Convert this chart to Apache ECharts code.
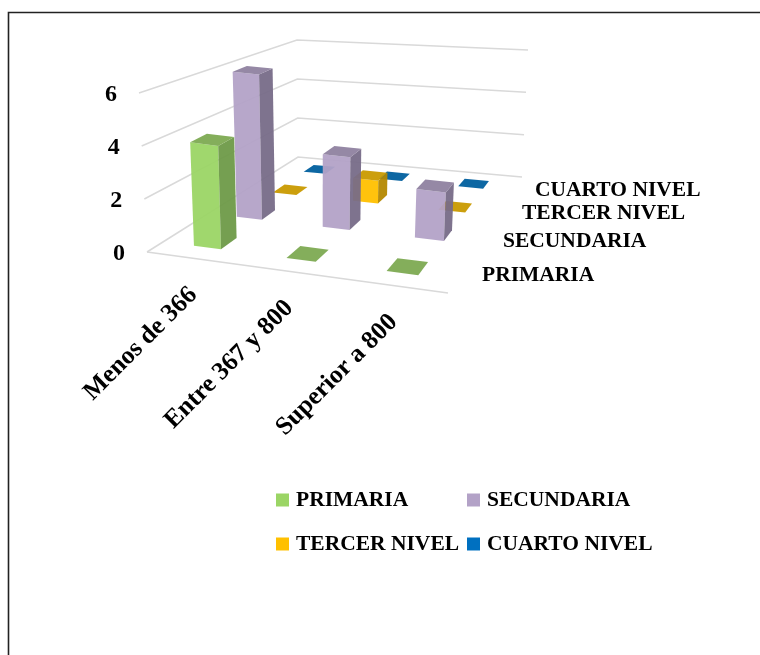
<!DOCTYPE html>
<html><head><meta charset="utf-8">
<style>html,body{margin:0;padding:0;background:#fff}#c{width:760px;height:655px}</style>
<script src="https://cdn.jsdelivr.net/npm/echarts@6/dist/echarts.min.js"></script>
</head><body><div id="c"></div>
<script>
// ---- data ----
const categories = ['Menos de 366', 'Entre 367 y 800', 'Superior a 800'];
const levels = ['PRIMARIA', 'SECUNDARIA', 'TERCER NIVEL', 'CUARTO NIVEL'];
const primaria = [4, 0, 0];
const secundaria = [6, 3, 2];
const tercerNivel = [0, 1, 0];
const cuartoNivel = [0, 0, 0];
const yTicks = [0, 2, 4, 6];

// ---- style / view ----
const FONT = 'bold 21.5px "Liberation Serif", serif';
const TICKFONT = 'bold 24px "Liberation Serif", serif';
const CATFONT = 'bold 25.5px "Liberation Serif", serif';
const floorQuad = [[147,252],[448,293],[522,177],[298,157]]; // FL FR BR BL
const lift = [[-8,-159],[8,-155],[6,-127],[-1,-117]];         // top offset at the same corners
const BAR_W = 0.10, BAR_D = 0.09;
const faces = [
  {front:'#9BD565', side:'#6E9A48', top:'#7DAA52'},
  {front:'#B3A2C7', side:'#776B88', top:'#8F82A0'},
  {front:'#FFC000', side:'#B48800', top:'#C99A00'},
  {front:'#0070C0', side:'#00508A', top:'#005F9E'}
];
const legendColors = ['#9BD565','#B3A2C7','#FFC000','#0070C0'];
const levelLabelPos = [[482,275],[503,241],[522,213],[535,190]];

function solve(q){
  const [p0,p1,p2,p3]=q;
  const dx1=p1[0]-p2[0],dx2=p3[0]-p2[0],sx=p0[0]-p1[0]+p2[0]-p3[0];
  const dy1=p1[1]-p2[1],dy2=p3[1]-p2[1],sy=p0[1]-p1[1]+p2[1]-p3[1];
  const den=dx1*dy2-dx2*dy1;
  const g=(sx*dy2-dx2*sy)/den,h=(dx1*sy-sx*dy1)/den;
  return {a:p1[0]-p0[0]+g*p1[0],b:p3[0]-p0[0]+h*p3[0],c:p0[0],d:p1[1]-p0[1]+g*p1[1],e:p3[1]-p0[1]+h*p3[1],f:p0[1],g,h};
}
const H=solve(floorQuad);
function project(u,d,t){
  const w=H.g*u+H.h*d+1;
  const x=(H.a*u+H.b*d+H.c)/w, y=(H.d*u+H.e*d+H.f)/w;
  const mix=i=>lift[0][i]*(1-u)*(1-d)+lift[1][i]*u*(1-d)+lift[2][i]*u*d+lift[3][i]*(1-u)*d;
  return [x+mix(0)*t,y+mix(1)*t];
}
function frac(cs,pt){return [(pt[0]-cs.x)/cs.width,(cs.y+cs.height-pt[1])/cs.height];}

function barRenderer(row){
  return function(params,api){
    const cs=params.coordSys;
    const idx=api.value(0), val=api.value(1);
    const f=frac(cs,api.coord([idx,val]));
    const uc=f[0], t=f[1];
    const dc=(row+0.5)/levels.length;
    const u0=uc-BAR_W/2,u1=uc+BAR_W/2,d0=dc-BAR_D/2,d1=dc+BAR_D/2;
    const c=faces[row];
    const poly=(pts,fill)=>({type:'polygon',shape:{points:pts},style:{fill:fill,opacity:0.95}});
    const kids=[];
    if(val>0){
      kids.push(poly([project(u0,d0,0),project(u1,d0,0),project(u1,d0,t),project(u0,d0,t)],c.front));
      kids.push(poly([project(u1,d0,0),project(u1,d1,0),project(u1,d1,t),project(u1,d0,t)],c.side));
    }
    kids.push(poly([project(u0,d0,t),project(u1,d0,t),project(u1,d1,t),project(u0,d1,t)],c.top));
    return {type:'group',children:kids};
  };
}
const seriesData=[primaria,secundaria,tercerNivel,cuartoNivel];
const series=levels.map((name,row)=>({
  name:name,type:'custom',coordinateSystem:'cartesian2d',z:10-row,
  itemStyle:{color:legendColors[row]},silent:true,
  renderItem:barRenderer(row),
  data:seriesData[row].map((v,i)=>[i,v])
}));
// walls and floor
series.push({name:'walls',type:'custom',z:1,silent:true,
  renderItem(params,api){
    const cs=params.coordSys, t=frac(cs,api.coord([0,api.value(1)]))[1];
    const style={stroke:'#D9D9D9',lineWidth:1.5,fill:null};
    const kids=[{type:'polyline',shape:{points:[project(0,0,t),project(0,1,t),project(1,1,t)]},style}];
    if(t===0) kids.push({type:'polyline',shape:{points:[project(0,0,0),project(1,0,0)]},style});
    const p=project(0,0,t);
    kids.push({type:'text',style:{x:p[0]-28,y:p[1]+2,text:String(api.value(1)),font:TICKFONT,fill:'#000',align:'center',verticalAlign:'middle'}});
    return {type:'group',children:kids};
  },
  data:yTicks.map(v=>[0,v])});
// category labels
series.push({name:'catLabels',type:'custom',z:2,silent:true,
  renderItem(params,api){
    const cs=params.coordSys,i=api.value(0),f=frac(cs,api.coord([i,0]));
    const p=project(f[0],0,0);
    return {type:'text',x:p[0]+1,y:p[1]+33,rotation:Math.PI/4,
      style:{text:categories[i],font:CATFONT,fill:'#000',align:'right',verticalAlign:'middle'}};
  },
  data:categories.map((c,i)=>[i,0])});
// depth labels
series.push({name:'levelLabels',type:'custom',z:2,silent:true,
  renderItem(params,api){
    const i=params.dataIndex,p=levelLabelPos[i];
    return {type:'text',x:p[0],y:p[1],style:{text:levels[i],font:FONT,fill:'#000',align:'left',verticalAlign:'middle'}};
  },
  data:levels.map((l,i)=>[0,0])});

const legendText={fontFamily:'"Liberation Serif", serif',fontWeight:'bold',fontSize:21.5,color:'#000',padding:[0,0,0,2]};
const chart=echarts.init(document.getElementById('c'),null,{renderer:'canvas'});
chart.setOption({
  animation:false,
  backgroundColor:'#fff',
  grid:{left:147,top:93,width:300,height:159},
  xAxis:{type:'category',data:categories,show:false},
  yAxis:{type:'value',min:0,max:6,interval:2,show:false},
  legend:[
    {data:['PRIMARIA','TERCER NIVEL'],orient:'vertical',left:271,top:484,itemWidth:13,itemHeight:13,itemGap:22,icon:'rect',textStyle:legendText},
    {data:['SECUNDARIA','CUARTO NIVEL'],orient:'vertical',left:462,top:484,itemWidth:13,itemHeight:13,itemGap:22,icon:'rect',textStyle:legendText}
  ],
  graphic:[{type:'rect',shape:{x:8.5,y:12.5,width:900,height:900},style:{fill:null,stroke:'#222',lineWidth:1.6},silent:true}],
  series:series
});
</script></body></html>
